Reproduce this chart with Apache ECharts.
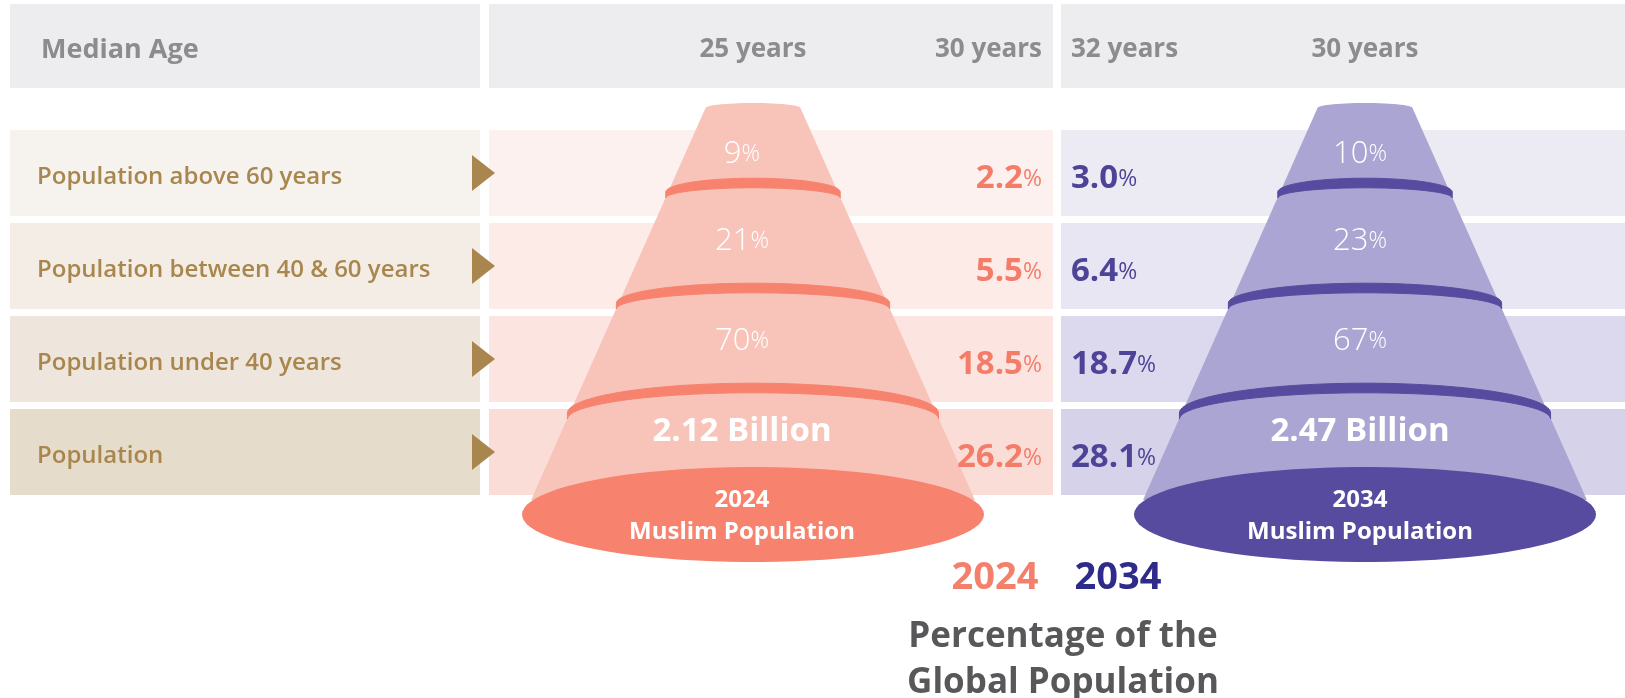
<!DOCTYPE html>
<html><head><meta charset="utf-8">
<script src="https://cdn.jsdelivr.net/npm/echarts@6/dist/echarts.min.js"></script>
<style>html,body{margin:0;padding:0;background:#fff}#c{width:1625px;height:698px}</style>
</head><body><div id="c"></div>
<script>
// ---------- DATA ----------
const rowLabels = ['Population above 60 years', 'Population between 40 & 60 years', 'Population under 40 years', 'Population'];
const headerTitle = 'Median Age';
const medianAgeLabels = ['25 years', '30 years', '32 years', '30 years'];
const years = ['2024', '2034'];
const muslimShare2024 = [9, 21, 70];
const muslimShare2034 = [10, 23, 67];
const muslimPopulationBillion = [2.12, 2.47];
const globalShare2024 = [2.2, 5.5, 18.5, 26.2];
const globalShare2034 = [3.0, 6.4, 18.7, 28.1];
const footerTitle = ['Percentage of the', 'Global Population'];
const coneCaption = 'Muslim Population';

// ---------- LAYOUT / STYLE ----------
const FONT = '"Open Sans", "Noto Sans", sans-serif';
const ROW_TOP = 130, ROW_PITCH = 93, ROW_H = 86;
const HEADER = [4, 88];
const COLS = [[10, 480], [489, 1053], [1061, 1625]];
const HEADER_BG = '#ededef';
const LABEL_BG = ['#f6f3ee', '#f3ede5', '#eee6dc', '#e6dccb'];
const PINK_BG = ['#fdf1ef', '#fdebe8', '#fce5e1', '#fbddd7'];
const PURPLE_BG = ['#ecebf4', '#e8e6f2', '#dcd9ee', '#d6d2ea'];
const GOLD = '#a8864e';
const GREY = '#8c8c90';
const THEMES = [
  { cx: 753, tx: 742, body: '#f8c4ba', dark: '#f7836f', text: '#f47d69' },
  { cx: 1365, tx: 1360, body: '#aaa5d2', dark: '#574ba0', text: '#4d4497' }
];
const shares = [muslimShare2024, muslimShare2034];
const globals = [globalShare2024, globalShare2034];
const rowCenter = i => ROW_TOP + i * ROW_PITCH + ROW_H / 2;

const chart = echarts.init(document.getElementById('c'), null, { renderer: 'canvas' });

function bandsItem(params, api) {
  const i = api.value(0);
  const P = (x, y) => api.coord([x, y]);
  const ch = [];
  const rect = (x0, y0, x1, y1, fill) => {
    const a = P(x0, y0), b = P(x1, y1);
    ch.push({ type: 'rect', shape: { x: a[0], y: a[1], width: b[0] - a[0], height: b[1] - a[1] }, style: { fill } });
  };
  if (i < 0) {
    COLS.forEach(c => rect(c[0], HEADER[0], c[1], HEADER[1], HEADER_BG));
    const cy = (HEADER[0] + HEADER[1]) / 2 + 4;
    const txt = (s, x, align, size) => {
      const p = P(x, cy);
      ch.push({ type: 'text', style: { text: s, x: p[0], y: p[1], fill: GREY, font: '700 ' + size + 'px ' + FONT, align, verticalAlign: 'middle' } });
    };
    txt(headerTitle, 41, 'left', 27);
    txt(medianAgeLabels[0], THEMES[0].cx, 'center', 26);
    txt(medianAgeLabels[1], 1042, 'right', 26);
    txt(medianAgeLabels[2], 1071, 'left', 26);
    txt(medianAgeLabels[3], THEMES[1].cx, 'center', 26);
  } else {
    const y0 = ROW_TOP + i * ROW_PITCH, y1 = y0 + ROW_H;
    rect(COLS[0][0], y0, COLS[0][1], y1, LABEL_BG[i]);
    rect(COLS[1][0], y0, COLS[1][1], y1, PINK_BG[i]);
    rect(COLS[2][0], y0, COLS[2][1], y1, PURPLE_BG[i]);
    const c = rowCenter(i);
    ch.push({ type: 'polygon', shape: { points: [P(472, c - 18), P(495, c), P(472, c + 18)] }, style: { fill: GOLD } });
    const p = P(37, c + 4);
    ch.push({ type: 'text', style: { text: rowLabels[i], x: p[0], y: p[1], fill: GOLD, font: '600 24px ' + FONT, align: 'left', verticalAlign: 'middle' } });
  }
  return { type: 'group', children: ch };
}

function coneItem(params, api) {
  const k = api.value(0);
  const t = THEMES[k];
  const cx = t.cx;
  const P = (x, y) => api.coord([x, y]);
  const topY = 108, topHW = 47.5, slope = 0.445;
  const hw = y => topHW + slope * (y - topY);
  const ch = [];
  const arc = (cy, rx, ry, from, to, n) => {
    const pts = [];
    for (let j = 0; j <= n; j++) {
      const a = from + (to - from) * j / n;
      pts.push(P(cx + rx * Math.cos(a), cy + ry * Math.sin(a)));
    }
    return pts;
  };
  // body
  const body = arc(topY, topHW, 5, Math.PI, 2 * Math.PI, 30);
  body.push(P(cx + hw(500), 500));
  body.push(P(cx - hw(500), 500));
  ch.push({ type: 'polygon', shape: { points: body }, style: { fill: t.body } });
  // rings (thicker in the middle, thinner at the ends)
  [{ y: 195, ry: 12 }, { y: 306, ry: 18 }, { y: 416, ry: 28 }].forEach(r => {
    const rx = hw(r.y) + 1;
    const upper = arc(r.y - 3, rx, r.ry + 1.8, Math.PI, 2 * Math.PI, 50);
    const lower = arc(r.y + 3, rx, r.ry - 1.8, 2 * Math.PI, Math.PI, 50);
    ch.push({ type: 'polygon', shape: { points: upper.concat(lower) }, style: { fill: t.dark, stroke: t.dark, lineWidth: 1, lineJoin: 'round' } });
  });
  // base
  ch.push({ type: 'polygon', shape: { points: arc(514.5, 231, 47.5, 0, 2 * Math.PI, 90) }, style: { fill: t.dark } });
  // texts
  const shareY = [154, 241, 341];
  shares[k].forEach((v, j) => {
    const p = P(t.tx, shareY[j]);
    ch.push({ type: 'text', style: { text: '{n|' + v + '}{p|%}', x: p[0], y: p[1], align: 'center', verticalAlign: 'middle', fill: '#fff',
      rich: { n: { fontFamily: FONT, fontWeight: 300, fontSize: 31, fill: '#fff' }, p: { fontFamily: FONT, fontWeight: 300, fontSize: 23, fill: '#fff' } } } });
  });
  const tx = (s, y, size) => {
    const p = P(t.tx, y);
    ch.push({ type: 'text', style: { text: s, x: p[0], y: p[1], fill: '#fff', font: '700 ' + size + 'px ' + FONT, align: 'center', verticalAlign: 'middle' } });
  };
  tx(muslimPopulationBillion[k].toFixed(2) + ' Billion', 432, 33);
  tx(years[k], 500, 24);
  tx(coneCaption, 532, 24);
  return { type: 'group', children: ch };
}

function globalItem(params, api) {
  const k = api.value(0), i = api.value(1), v = api.value(2);
  const t = THEMES[k];
  const p = api.coord([k === 0 ? 1042 : 1071, rowCenter(i) + 6]);
  return { type: 'text', style: { text: '{n|' + v.toFixed(1) + '}{p|%}', x: p[0], y: p[1], align: k === 0 ? 'right' : 'left', verticalAlign: 'middle', fill: t.text,
    rich: { n: { fontFamily: FONT, fontWeight: 700, fontSize: 33, fill: t.text }, p: { fontFamily: FONT, fontWeight: 400, fontSize: 23, fill: t.text } } } };
}

const globalData = [];
globals.forEach((arr, k) => arr.forEach((v, i) => globalData.push([k, i, v])));

function footerItem(params, api) {
  const P = (x, y) => api.coord([x, y]);
  const ch = [];
  const a = P(995, 578), b = P(1118, 578);
  ch.push({ type: 'text', style: { text: years[0], x: a[0], y: a[1], fill: '#f4806c', font: '700 38px ' + FONT, align: 'center', verticalAlign: 'middle' } });
  ch.push({ type: 'text', style: { text: years[1], x: b[0], y: b[1], fill: '#2e2b8b', font: '700 38px ' + FONT, align: 'center', verticalAlign: 'middle' } });
  footerTitle.forEach((s, j) => {
    const p = P(1063, 637 + j * 46);
    ch.push({ type: 'text', style: { text: s, x: p[0], y: p[1], fill: '#58585a', font: '700 35px ' + FONT, align: 'center', verticalAlign: 'middle' } });
  });
  return { type: 'group', children: ch };
}

chart.setOption({
  animation: false,
  backgroundColor: '#ffffff',
  grid: { left: 0, top: 0, right: 0, bottom: 0 },
  xAxis: { type: 'value', min: 0, max: 1625, show: false },
  yAxis: { type: 'value', min: 0, max: 698, inverse: true, show: false },
  series: [
    { type: 'custom', name: 'bands', renderItem: bandsItem, data: [[-1]].concat(rowLabels.map((_, i) => [i])), silent: true, clip: false },
    { type: 'custom', name: 'cones', renderItem: coneItem, data: years.map((_, k) => [k]), silent: true, clip: false },
    { type: 'custom', name: 'global', renderItem: globalItem, data: globalData, silent: true, clip: false },
    { type: 'custom', name: 'footer', renderItem: footerItem, data: [[0]], silent: true, clip: false }
  ]
});
</script></body></html>
